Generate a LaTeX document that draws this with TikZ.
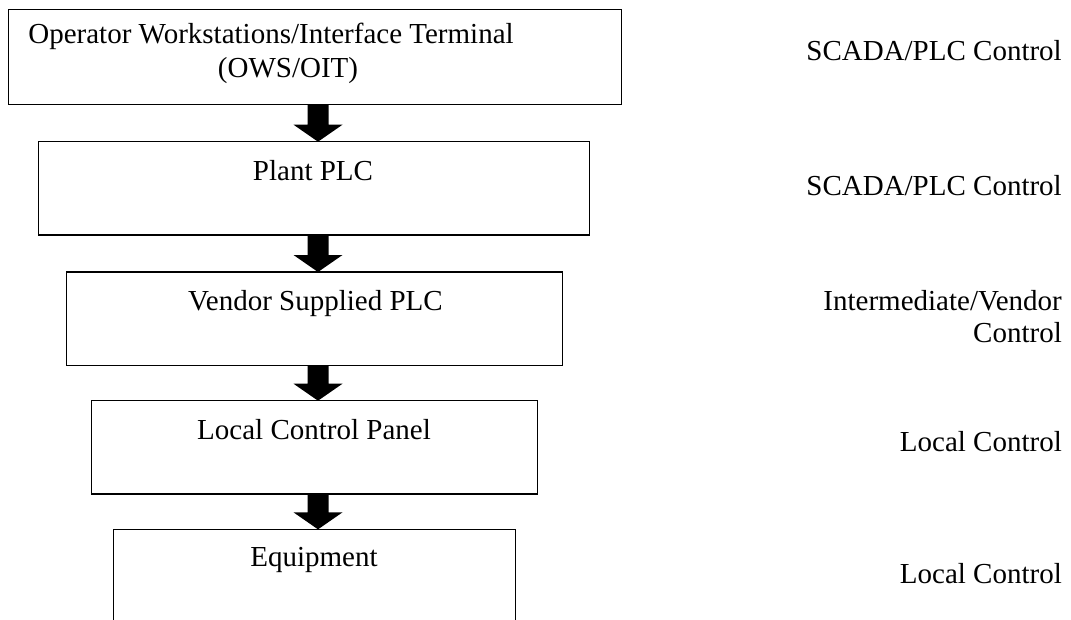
\documentclass[tikz,border=0pt]{standalone}
\usepackage{fontspec}
\setmainfont{Liberation Serif}
\usetikzlibrary{calc}
\newcommand\blockarrow[2]{%
  \coordinate (tmpS) at (#1.south -| ax);
  \coordinate (tmpE) at (#2.north -| ax);
  \fill[black] ($(tmpS)+(-10.5,0)$) -- ($(tmpE)+(-10.5,-17)$) -- ($(tmpE)+(-24.5,-17)$) -- (tmpE)
     -- ($(tmpE)+(24.5,-17)$) -- ($(tmpE)+(10.5,-17)$) -- ($(tmpS)+(10.5,0)$) -- cycle;}
\begin{document}
\begin{tikzpicture}[x=1pt,y=-1pt,
  box/.style={draw=black,line width=1.3pt,rectangle,inner sep=0pt,outer sep=0pt},
  lbl/.style={font=\fontsize{29}{34}\selectfont,inner sep=0pt,anchor=base},
  rlbl/.style={font=\fontsize{29}{34}\selectfont,inner sep=0pt,anchor=base east}]
\useasboundingbox (0,0) rectangle (1071,619);
\clip (0,0) rectangle (1071,619);
% boxes
\node[box,minimum width=612.6pt,minimum height=94.8pt] (b1) at (315,56.9) {};
\node[box,minimum width=551.4pt,minimum height=93.3pt] (b2) at (314,188.35) {};
\node[box,minimum width=495.6pt,minimum height=93.3pt] (b3) at (314.5,318.65) {};
\node[box,minimum width=445.6pt,minimum height=93.3pt] (b4) at (314.5,447.35) {};
\node[box,minimum width=401.6pt,minimum height=93.3pt] (b5) at (314.5,576) {};
% box texts
\node[lbl] (t1a) at (271,43.3) {Operator Workstations/Interface Terminal};
\node[lbl] (t1b) at (288,77.5) {(OWS/OIT)};
\node[lbl] (t2) at (313,180) {Plant PLC};
\node[lbl] (t3) at (315.5,310) {Vendor Supplied PLC};
\node[lbl] (t4) at (314,439.3) {Local Control Panel};
\node[lbl] (t5) at (314,566.7) {Equipment};
% right labels
\node[rlbl] (r1) at (1062,60.7) {SCADA/PLC Control};
\node[rlbl] (r2) at (1062,195) {SCADA/PLC Control};
\node[rlbl] (r3a) at (1062,310) {Intermediate/Vendor};
\node[rlbl] (r3b) at (1062,342.7) {Control};
\node[rlbl] (r4) at (1062,451.7) {Local Control};
\node[rlbl] (r5) at (1062,583.3) {Local Control};
% arrows
\coordinate (ax) at (318,0);
\blockarrow{b1}{b2}
\blockarrow{b2}{b3}
\blockarrow{b3}{b4}
\blockarrow{b4}{b5}
\end{tikzpicture}
\end{document}
